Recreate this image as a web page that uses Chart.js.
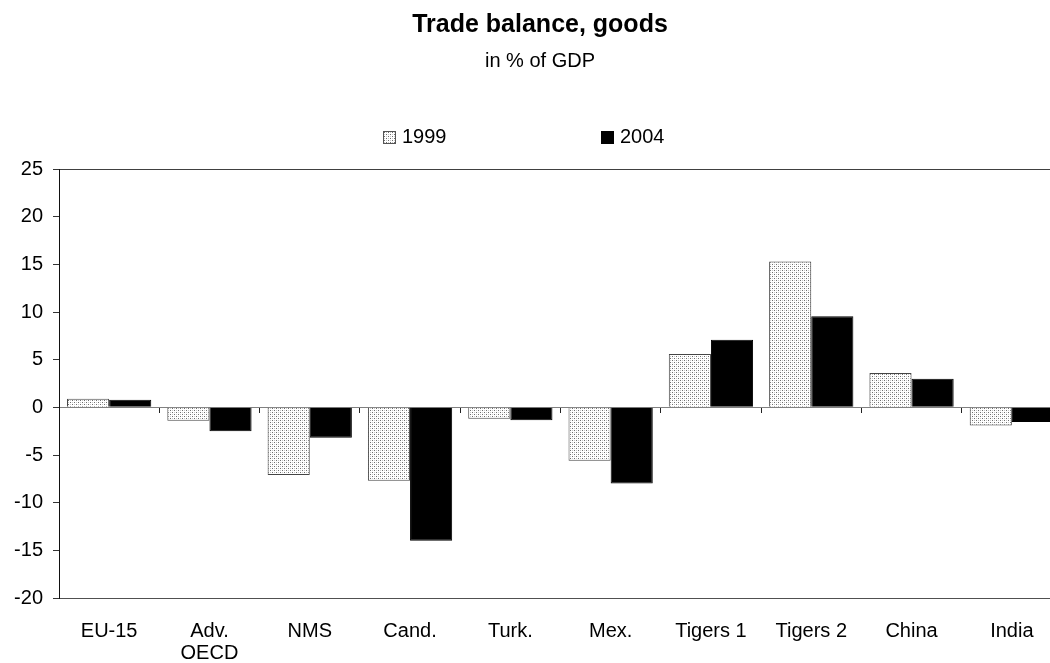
<!DOCTYPE html>
<html>
<head>
<meta charset="utf-8">
<script src="https://cdn.jsdelivr.net/npm/chart.js@4/dist/chart.umd.min.js"></script>
<style>
  html, body { margin: 0; padding: 0; background: #fff; overflow: hidden; }
  #wrap { position: relative; width: 1062px; height: 663px; }
</style>
</head>
<body>
<div id="wrap"><canvas id="chart" width="1062" height="663"></canvas></div>
<script>
// Trade balance, goods (in % of GDP)
const categories = ['EU-15', ['Adv.', 'OECD'], 'NMS', 'Cand.', 'Turk.', 'Mex.', 'Tigers 1', 'Tigers 2', 'China', 'India'];
const values1999 = [0.9, -1.4, -7.1, -7.7, -1.2, -5.6, 5.6, 15.3, 3.6, -1.9];
const values2004 = [0.8, -2.5, -3.2, -14.0, -1.35, -8.0, 7.1, 9.55, 3.0, -1.55];
const seriesNames = ['1999', '2004'];
const yMin = -20, yMax = 25, yStep = 5;

const FONT = '"Liberation Sans", Arial, sans-serif';
const canvas = document.getElementById('chart');
const ctx = canvas.getContext('2d');

// dotted fill like the old spreadsheet pattern
function dotPattern() {
  const t = document.createElement('canvas');
  t.width = 4; t.height = 4;
  const g = t.getContext('2d');
  g.fillStyle = '#fff';
  g.fillRect(0, 0, 4, 4);
  g.fillStyle = '#6e6e6e';
  g.fillRect(0, 0, 1, 1);
  g.fillRect(2, 2, 1, 1);
  g.fillStyle = '#c8c8c8';
  g.fillRect(2, 0, 1, 1);
  g.fillRect(0, 2, 1, 1);
  return ctx.createPattern(t, 'repeat');
}
const dots = dotPattern();

// legend drawn by hand so the two items sit far apart
const legendPlugin = {
  id: 'spreadLegend',
  afterLayout(chart) {
    // let the y tick labels use the space left of the padding (no clipping of "-10")
    const y = chart.scales.y;
    y.left = 0;
  },
  afterDraw(chart) {
    const c = chart.ctx;
    const cx = chart.titleBlock.left + chart.titleBlock.width / 2;
    const top = chart.chartArea.top - 38;
    const items = [
      { x: cx - 157, fill: dots, stroke: '#555', text: seriesNames[0] },
      { x: cx + 61, fill: '#000', stroke: '#000', text: seriesNames[1] }
    ];
    c.save();
    items.forEach(it => {
      c.fillStyle = it.fill;
      c.fillRect(it.x, top, 13, 13);
      c.strokeStyle = it.stroke;
      c.lineWidth = 1;
      c.strokeRect(it.x + 0.5, top + 0.5, 12, 12);
      c.fillStyle = '#000';
      c.font = '20px ' + FONT;
      c.textBaseline = 'middle';
      c.textAlign = 'left';
      c.fillText(it.text, it.x + 19, top + 6.5);
    });
    c.restore();
  }
};

new Chart(ctx, {
  type: 'bar',
  data: {
    labels: categories,
    datasets: [
      { label: seriesNames[0], data: values1999, backgroundColor: dots, borderColor: '#444', borderWidth: 1,
        categoryPercentage: 0.84, barPercentage: 1.0 },
      { label: seriesNames[1], data: values2004, backgroundColor: '#000', borderColor: '#000', borderWidth: 1,
        categoryPercentage: 0.84, barPercentage: 1.0 }
    ]
  },
  options: {
    responsive: false,
    animation: false,
    layout: { padding: { left: 18, right: 0, top: 0, bottom: 0 } },
    plugins: {
      legend: { display: false },
      tooltip: { enabled: false },
      title: {
        display: true,
        text: 'Trade balance, goods',
        color: '#000',
        font: { family: FONT, size: 25, weight: 'bold' },
        padding: { top: 10, bottom: 0 }
      },
      subtitle: {
        display: true,
        text: 'in % of GDP',
        color: '#000',
        font: { family: FONT, size: 20 },
        padding: { top: 9, bottom: 96 }
      }
    },
    scales: {
      x: {
        position: 'bottom',
        grid: { display: false },
        border: { display: true, color: '#505050', width: 1 },
        ticks: { color: '#000', font: { family: FONT, size: 20, lineHeight: 1.1 }, padding: 14, maxRotation: 0, autoSkip: false },
        afterFit(scale) { scale.height = 65; }
      },
      // category axis sitting on the zero line, only for its ticks
      x2: {
        type: 'category',
        position: { y: 0 },
        offset: true,
        grid: { display: true, offset: true, drawOnChartArea: false, drawTicks: true, tickLength: 5, tickColor: '#222' },
        border: { display: true, color: '#808080', width: 1 },
        ticks: { display: false }
      },
      y: {
        min: yMin,
        max: yMax,
        grid: {
          color: c => (c.tick && c.tick.value === yMax) ? '#404040' : 'rgba(0,0,0,0)',
          tickColor: '#333',
          tickLength: 6,
          drawTicks: true
        },
        border: { display: true, color: '#111', width: 1 },
        ticks: { stepSize: yStep, color: '#000', font: { family: FONT, size: 20 }, padding: 10 },
        afterFit(scale) { scale.width = 41; }
      }
    }
  },
  plugins: [legendPlugin]
});
</script>
</body>
</html>
